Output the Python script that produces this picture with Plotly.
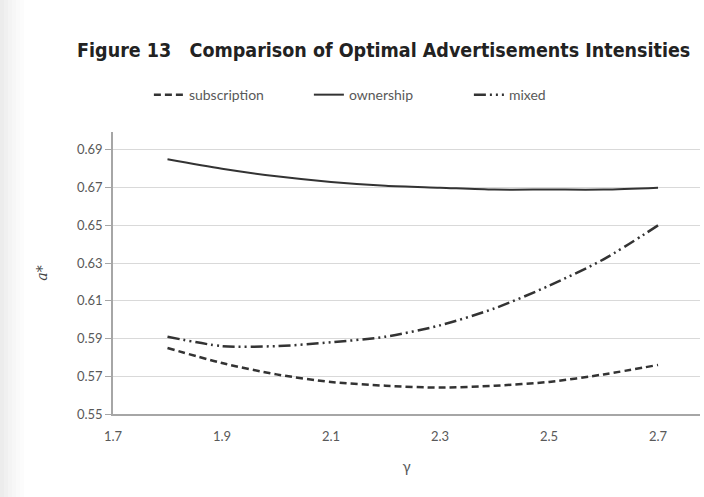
import plotly.graph_objects as go

gamma = [1.8, 1.9, 2.0, 2.1, 2.2, 2.3, 2.4, 2.5, 2.6, 2.7]
subscription = [0.585, 0.577, 0.571, 0.567, 0.565, 0.564, 0.565, 0.567, 0.571, 0.576]
ownership = [0.685, 0.680, 0.676, 0.673, 0.671, 0.670, 0.669, 0.669, 0.669, 0.670]
mixed = [0.591, 0.586, 0.586, 0.588, 0.591, 0.597, 0.606, 0.618, 0.632, 0.650]

x_ticks = [1.7, 1.9, 2.1, 2.3, 2.5, 2.7]
y_ticks = [0.55, 0.57, 0.59, 0.61, 0.63, 0.65, 0.67, 0.69]

col = "#333333"
fig = go.Figure()
fig.add_trace(go.Scatter(x=gamma, y=subscription, mode="lines", name="subscription",
                         line=dict(color=col, width=2.5, dash="7px,4px", shape="spline", smoothing=0.8)))
fig.add_trace(go.Scatter(x=gamma, y=ownership, mode="lines", name="ownership",
                         line=dict(color=col, width=2, shape="spline", smoothing=0.8)))
fig.add_trace(go.Scatter(x=gamma, y=mixed, mode="lines", name="mixed",
                         line=dict(color=col, width=2.5, dash="12px,4px,2px,4px,2px,4px", shape="spline", smoothing=0.8)))

# soft grey shading on the left edge (scan artefact)
plot_w = 704 - 113 - 4
shapes = []
greys = ["#ececec", "#f0f0f0", "#f4f4f4", "#f7f7f7", "#fafafa", "#fcfcfc"]
for i, g in enumerate(greys):
    shapes.append(dict(type="rect", xref="paper", yref="paper",
                       x0=(-113 + i * 4) / plot_w, x1=(-113 + (i + 1) * 4) / plot_w,
                       y0=-83 / 282, y1=(497 - 83) / 282,
                       fillcolor=g, line=dict(width=0), layer="below"))

fig.update_layout(
    width=704, height=497,
    margin=dict(l=113, r=4, t=132, b=83),
    paper_bgcolor="white", plot_bgcolor="white",
    shapes=shapes,
    title=dict(text="<b>Figure 13   Comparison of Optimal Advertisements Intensities</b>",
               x=0.545, xanchor="center", y=0.9, yanchor="middle",
               font=dict(family="Liberation Sans Narrow, DejaVu Sans Condensed, Arial Narrow", size=19.5, color="#222222")),
    legend=dict(orientation="h", x=0.47, xanchor="center", y=1.131, yanchor="middle",
                font=dict(family="Lato, Open Sans", size=14, color="#595959"),
                bgcolor="rgba(0,0,0,0)", itemwidth=30, entrywidth=115, entrywidthmode="pixels"),
    showlegend=True,
    xaxis=dict(range=[1.7, 2.777], tickvals=x_ticks, ticktext=[str(v) for v in x_ticks],
               showgrid=False, zeroline=False, showline=True, linecolor="#a6a6a6", linewidth=1.5,
               ticks="", ticklabelstandoff=10,
               tickfont=dict(family="Lato, Open Sans", size=13, color="#595959"),
               title=dict(text="γ", font=dict(family="Lato, Open Sans", size=15, color="#595959"), standoff=18)),
    yaxis=dict(range=[0.55, 0.6995], tickvals=y_ticks, ticktext=[f"{v:.2f}" for v in y_ticks],
               showgrid=True, gridcolor="#d9d9d9", gridwidth=1.2, zeroline=False,
               showline=True, linecolor="#a6a6a6", linewidth=1.5,
               ticks="outside", ticklen=6, tickcolor="#a6a6a6",
               tickfont=dict(family="Lato, Open Sans", size=13, color="#595959"),
               title=dict(text="<i>a*</i>", font=dict(family="DejaVu Serif", size=14, color="#444444"), standoff=26)),
)

fig.write_html("out.html")
